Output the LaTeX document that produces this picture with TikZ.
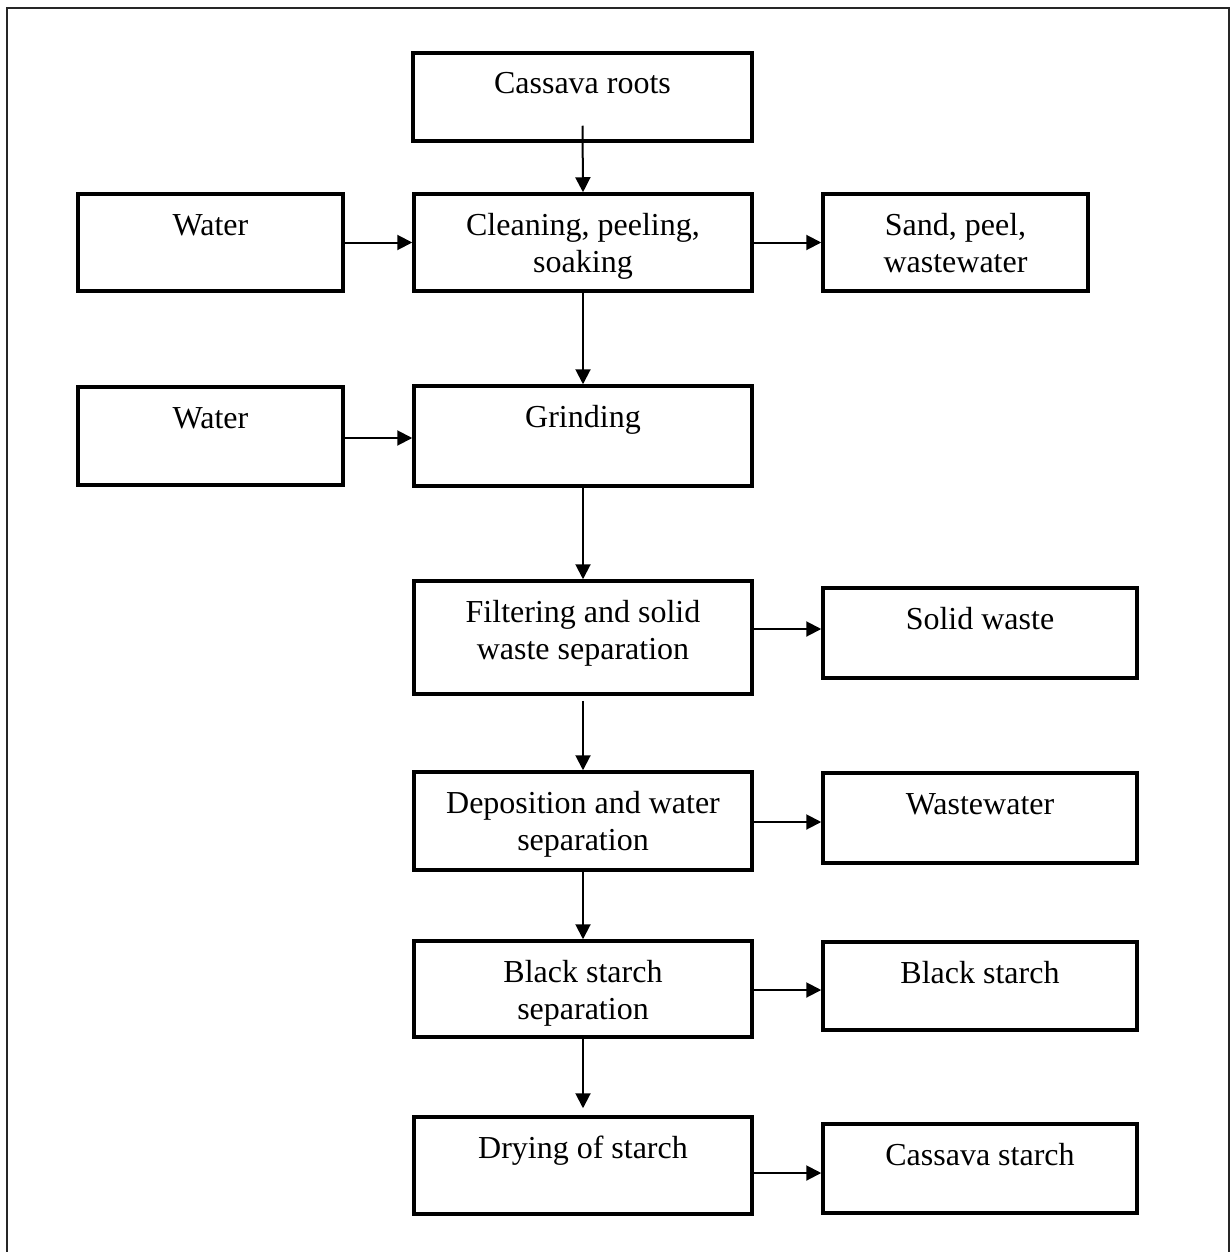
\documentclass[tikz,border=0pt]{standalone}
\usepackage{fontspec}
\setmainfont{Liberation Serif}
\usetikzlibrary{arrows.meta}

% Box label: fixed-size, top-aligned, centred lines
\newcommand\stagetext[3]{\parbox[c][#2pt][t]{#1pt}{\centering\rule{0pt}{41pt}#3}}

\begin{document}
\begin{tikzpicture}[x=1pt,y=-1pt,
  stage/.style={draw, line width=3.5pt, inner sep=0pt, font=\fontsize{32}{37}\selectfont},
  flow/.style={line width=2pt, -{Triangle[length=15pt,width=15pt]}},
  frame/.style={draw=black!85, line width=2pt}
]
\useasboundingbox (0,0) rectangle (1230,1252);
\draw[frame] (7,1262) -- (7,8) -- (1229,8) -- (1229,1262);

% Process column
\node[stage] (roots)  at (582.5,97)   {\stagetext{339}{88}{Cassava roots}};
\node[stage] (clean)  at (583,242.5)  {\stagetext{338}{97}{Cleaning, peeling,\\ soaking}};
\node[stage] (grind)  at (583,436)    {\stagetext{338}{100}{Grinding}};
\node[stage] (filter) at (583,637.5)  {\stagetext{338}{113}{Filtering and solid\\ waste separation}};
\node[stage] (depo)   at (583,821)    {\stagetext{338}{98}{Deposition and water\\ separation}};
\node[stage] (bsep)   at (583,989)    {\stagetext{338}{96}{Black starch\\ separation}};
\node[stage] (dry)    at (583,1165.5) {\stagetext{338}{97}{Drying of starch}};

% Inputs
\node[stage] (water1) at (210.5,242.5) {\stagetext{265}{97}{Water}};
\node[stage] (water2) at (210.5,436)   {\stagetext{265}{98}{Water}};

% Outputs
\node[stage] (sand)    at (955.5,242.5) {\stagetext{265}{97}{Sand, peel,\\ wastewater}};
\node[stage] (solid)   at (980,633)     {\stagetext{314}{90}{Solid waste}};
\node[stage] (waste)   at (980,818)     {\stagetext{314}{90}{Wastewater}};
\node[stage] (black)   at (980,986)     {\stagetext{314}{88}{Black starch}};
\node[stage] (cstarch) at (980,1168.5)  {\stagetext{314}{89}{Cassava starch}};

% Connectors
\coordinate (rootsout) at ([yshift=17pt]roots.south);
\draw[flow] (rootsout) -- (clean.north);
\draw[flow] (water1.east) -- (clean.west);
\draw[flow] (clean.east) -- (sand.west);
\draw[flow] (clean.south) -- (grind.north);
\draw[flow] ([yshift=-2pt]water2.east) -- ([yshift=-2pt]water2.east -| grind.west);
\draw[flow] (grind.south) -- (filter.north);
\draw[flow] ([yshift=8.5pt]filter.east) -- ([yshift=8.5pt]filter.east -| solid.west);
\draw[flow] ([yshift=-5pt]filter.south) -- (depo.north);
\draw[flow] ([yshift=-1pt]depo.east) -- ([yshift=-1pt]depo.east -| waste.west);
\draw[flow] (depo.south) -- (bsep.north);
\draw[flow] ([yshift=-1pt]bsep.east) -- ([yshift=-1pt]bsep.east -| black.west);
\draw[flow] (bsep.south) -- ([yshift=7pt]dry.north);
\draw[flow] ([yshift=-7.5pt]dry.east) -- ([yshift=-7.5pt]dry.east -| cstarch.west);
\end{tikzpicture}
\end{document}
